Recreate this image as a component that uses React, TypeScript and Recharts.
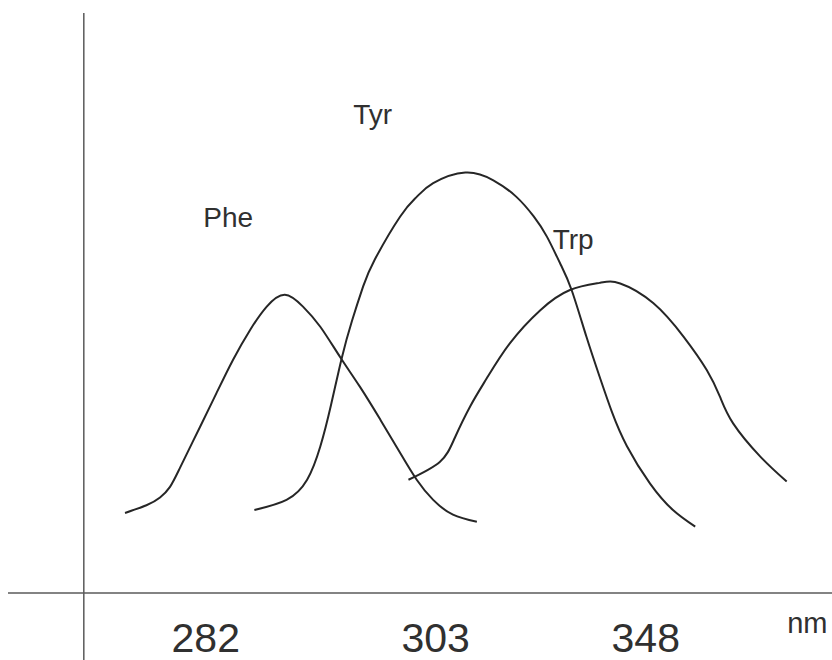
import React from 'react';
import {
  ComposedChart,
  Line,
  Scatter,
  XAxis,
  YAxis,
  ReferenceLine,
} from 'recharts';

// emission spectra, arbitrary position (x) vs intensity (y)
const pheX = [14.2, 16.8, 18.45, 19.66, 20.87, 23.3, 25.3, 27.3, 29.4, 31.4, 33.6, 35.8, 37.9, 40.3, 42.7, 45.2, 47.6, 49.6, 51.6, 54.0, 56.9];
const pheY = [13.5, 14.8, 16.1, 17.9, 21.1, 28.0, 33.7, 39.3, 44.4, 48.3, 50.3, 48.3, 44.9, 39.8, 34.8, 29.2, 23.6, 19.1, 15.7, 13.2, 12.0];

const tyrX = [29.9, 33.8, 36.3, 37.9, 39.2, 40.5, 41.75, 43.1, 44.5, 47.6, 49.6, 51.6, 55.5, 58.9, 61.7, 63.8, 65.4, 67.0, 68.4, 70.2, 71.84, 73.3, 75.1, 77.9, 80.7, 83.4];
const tyrY = [14.0, 15.7, 19.1, 24.7, 31.7, 39.6, 45.9, 51.7, 56.2, 63.5, 66.8, 69.1, 70.9, 69.6, 66.8, 63.5, 60.1, 55.6, 51.1, 43.2, 36.3, 30.5, 24.8, 18.5, 14.0, 11.2];

const trpX = [48.6, 52.4, 54.2, 56.1, 58.1, 60.9, 64.6, 68.2, 71.8, 74.3, 78.3, 82.0, 84.8, 86.4, 88.0, 91.3, 94.5];
const trpY = [19.1, 22.1, 26.1, 31.5, 36.2, 42.1, 47.7, 51.1, 52.3, 52.2, 48.9, 43.2, 37.6, 33.1, 28.6, 23.0, 18.8];

// curve names and where they sit
const names = ['Phe', 'Tyr', 'Trp'];
const nameX = [23.7, 41.9, 66.1];
const nameY = [61.7, 79.1, 58.0];

// x-axis ticks
const tickPos = [24.0, 51.9, 77.4, 97.0];
const tickLabels = ['282', '303', '348', 'nm'];

const toPoints = (xs: number[], ys: number[]) => xs.map((x, i) => ({ x, y: ys[i] }));

const phe = toPoints(pheX, pheY);
const tyr = toPoints(tyrX, tyrY);
const trp = toPoints(trpX, trpY);
const nameData = names.map((n, i) => ({ x: nameX[i], y: nameY[i], name: n }));

const FONT = '"Liberation Sans", Arial, sans-serif';
const INK = '#262626';

const AxisTick = (props: any) => {
  const { x, y, index } = props;
  const isUnit = tickLabels[index] === 'nm';
  return (
    <text
      x={x}
      y={y + (isUnit ? 40 : 59)}
      textAnchor="middle"
      fontFamily={FONT}
      fontSize={isUnit ? 29 : 41}
      fill="#303030"
    >
      {tickLabels[index]}
    </text>
  );
};

const NameShape = (props: any) => (
  <text x={props.cx} y={props.cy} fontFamily={FONT} fontSize={28} fill="#303030">
    {props.payload.name}
  </text>
);

export default function App() {
  return (
    <div style={{ position: 'absolute', left: 0, top: 0, background: '#fff' }}>
      <ComposedChart
        width={832}
        height={660}
        margin={{ top: 0, right: 0, bottom: 0, left: 8 }}
      >
        <XAxis
          type="number"
          dataKey="x"
          domain={[0, 100]}
          allowDataOverflow
          ticks={tickPos}
          interval={0}
          height={67}
          tickSize={0}
          tickMargin={0}
          tickLine={false}
          axisLine={{ stroke: '#5a5a5a', strokeWidth: 1.5 }}
          tick={<AxisTick />}
        />
        <YAxis type="number" dataKey="y" domain={[0, 100]} allowDataOverflow hide />
        <ReferenceLine
          segment={[{ x: 9.2, y: -11.5 }, { x: 9.2, y: 97.8 }]}
          stroke="#5a5a5a"
          strokeWidth={1.5}
          ifOverflow="visible"
        />
        <Line data={phe} dataKey="y" type="natural" stroke={INK} strokeWidth={2} dot={false} isAnimationActive={false} />
        <Line data={tyr} dataKey="y" type="natural" stroke={INK} strokeWidth={2} dot={false} isAnimationActive={false} />
        <Line data={trp} dataKey="y" type="natural" stroke={INK} strokeWidth={2} dot={false} isAnimationActive={false} />
        <Scatter data={nameData} dataKey="y" shape={<NameShape />} isAnimationActive={false} />
      </ComposedChart>
    </div>
  );
}
